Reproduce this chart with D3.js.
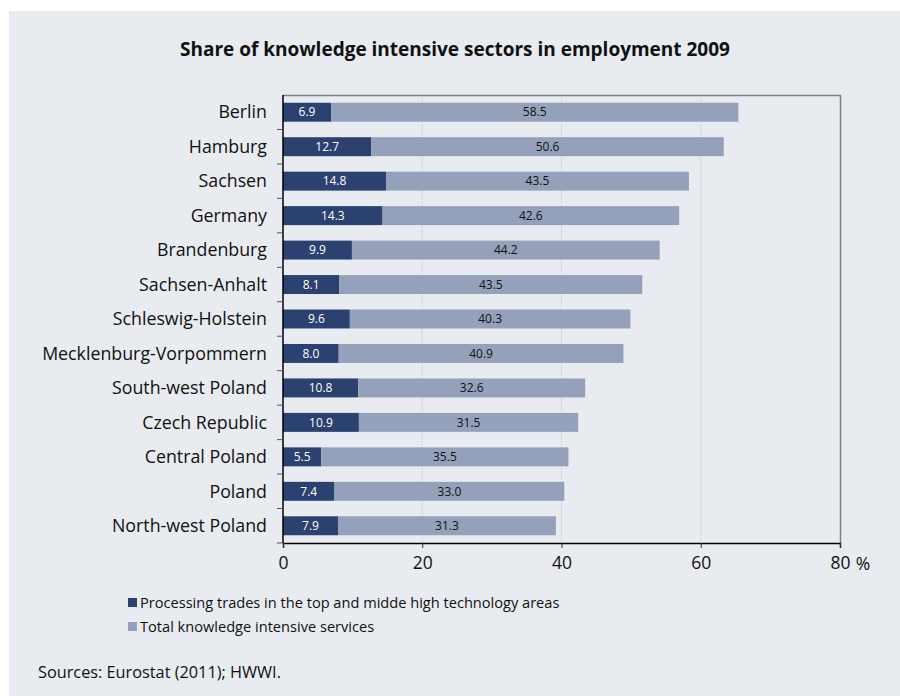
<!DOCTYPE html>
<html>
<head>
<meta charset="utf-8">
<script src="https://cdn.jsdelivr.net/npm/d3@7"></script>
<style>
  body { margin: 0; background: #fff; }
  svg { font-family: "Open Sans", "Noto Sans", sans-serif; }
</style>
</head>
<body>
<div id="chart"></div>
<script>
// chart data
var regions = ["Berlin", "Hamburg", "Sachsen", "Germany", "Brandenburg", "Sachsen-Anhalt",
  "Schleswig-Holstein", "Mecklenburg-Vorpommern", "South-west Poland", "Czech Republic",
  "Central Poland", "Poland", "North-west Poland"];
var processing = [6.9, 12.7, 14.8, 14.3, 9.9, 8.1, 9.6, 8.0, 10.8, 10.9, 5.5, 7.4, 7.9];
var services = [58.5, 50.6, 43.5, 42.6, 44.2, 43.5, 40.3, 40.9, 32.6, 31.5, 35.5, 33.0, 31.3];
var xTicks = [0, 20, 40, 60, 80];
var seriesNames = ["Processing trades in the top and midde high technology areas",
  "Total knowledge intensive services"];

var width = 900, height = 696;
var colDark = "#2b416f", colLight = "#95a1ba";

var svg = d3.select("#chart").append("svg")
    .attr("width", width)
    .attr("height", height);

svg.append("rect")
   .attr("x", 9).attr("y", 11)
   .attr("width", width - 9).attr("height", height - 11)
   .attr("fill", "#e8ebf0");

svg.append("text")
   .attr("x", 455).attr("y", 56)
   .attr("text-anchor", "middle")
   .attr("font-size", 19)
   .attr("font-weight", "bold")
   .attr("fill", "#111")
   .text("Share of knowledge intensive sectors in employment 2009");

var pLeft = 283, pRight = 840, pTop = 95, pBottom = 543;

var x = d3.scaleLinear().domain([0, 80]).range([pLeft, pRight]);
var y = d3.scaleBand().domain(regions).range([pTop, pBottom]).paddingInner(0.45).paddingOuter(0.225);
var band = d3.scaleBand().domain(regions).range([pTop, pBottom]);

// grid
svg.append("g").selectAll("line")
   .data(xTicks.slice(1, -1))
   .enter().append("line")
   .attr("x1", function(d) { return x(d); })
   .attr("x2", function(d) { return x(d); })
   .attr("y1", pTop).attr("y2", pBottom)
   .attr("stroke", "#c4c8cf")
   .attr("stroke-width", 1)
   .attr("stroke-dasharray", "1,1");

// frame top and right
svg.append("path")
   .attr("d", "M" + pLeft + "," + (pTop + 0.5) + "H" + (pRight + 0.5) + "V" + pBottom)
   .attr("fill", "none")
   .attr("stroke", "#7d8087")
   .attr("stroke-width", 1.5);

var rows = regions.map(function(r, i) {
  return {name: r, a: processing[i], b: services[i]};
});

var g = svg.append("g");

g.selectAll(".bar-a").data(rows).enter().append("rect")
   .attr("class", "bar-a")
   .attr("x", x(0))
   .attr("y", function(d) { return y(d.name); })
   .attr("width", function(d) { return x(d.a) - x(0); })
   .attr("height", y.bandwidth())
   .attr("fill", colDark);

g.selectAll(".bar-b").data(rows).enter().append("rect")
   .attr("class", "bar-b")
   .attr("x", function(d) { return x(d.a); })
   .attr("y", function(d) { return y(d.name); })
   .attr("width", function(d) { return x(d.a + d.b) - x(d.a); })
   .attr("height", y.bandwidth())
   .attr("fill", colLight);

g.selectAll(".lab-a").data(rows).enter().append("text")
   .attr("class", "lab-a")
   .attr("x", function(d) { return x(d.a / 2); })
   .attr("y", function(d) { return y(d.name) + y.bandwidth() / 2; })
   .attr("dy", "0.35em")
   .attr("text-anchor", "middle")
   .attr("font-size", 12)
   .attr("fill", "#fff")
   .text(function(d) { return d.a.toFixed(1); });

g.selectAll(".lab-b").data(rows).enter().append("text")
   .attr("class", "lab-b")
   .attr("x", function(d) { return x(d.a + d.b / 2); })
   .attr("y", function(d) { return y(d.name) + y.bandwidth() / 2; })
   .attr("dy", "0.35em")
   .attr("text-anchor", "middle")
   .attr("font-size", 12)
   .attr("fill", "#111")
   .text(function(d) { return d.b.toFixed(1); });

// left axis: ticks at band boundaries
var yAxis = svg.append("g");
yAxis.append("line")
   .attr("x1", pLeft).attr("x2", pLeft)
   .attr("y1", pTop).attr("y2", pBottom)
   .attr("stroke", "#000").attr("stroke-width", 1.5);
yAxis.selectAll(".tk").data(regions.slice(1)).enter().append("line")
   .attr("x1", pLeft - 6).attr("x2", pLeft)
   .attr("y1", function(d) { return band(d); })
   .attr("y2", function(d) { return band(d); })
   .attr("stroke", "#555");
yAxis.append("line")
   .attr("x1", pLeft - 6).attr("x2", pLeft)
   .attr("y1", pBottom).attr("y2", pBottom)
   .attr("stroke", "#555");
yAxis.selectAll("text").data(regions).enter().append("text")
   .attr("x", pLeft - 16)
   .attr("y", function(d) { return y(d) + y.bandwidth() / 2; })
   .attr("dy", "0.35em")
   .attr("text-anchor", "end")
   .attr("font-size", 17.8)
   .attr("fill", "#111")
   .text(function(d) { return d; });

// bottom axis
var xAxis = svg.append("g")
   .attr("transform", "translate(0," + pBottom + ")")
   .call(d3.axisBottom(x).tickValues(xTicks).tickSize(5).tickPadding(9));
xAxis.select(".domain").attr("stroke", "#000").attr("stroke-width", 1.5);
xAxis.selectAll(".tick line").attr("stroke", "#333");
xAxis.selectAll(".tick text")
   .attr("font-size", 17.5)
   .attr("font-family", "\"Open Sans\", sans-serif")
   .attr("fill", "#111");

svg.append("text")
   .attr("x", 863).attr("y", 569.5)
   .attr("text-anchor", "middle")
   .attr("font-size", 17.5)
   .attr("fill", "#111")
   .text("%");

// legend
var legend = svg.append("g").selectAll("g")
   .data(seriesNames)
   .enter().append("g")
   .attr("transform", function(d, i) { return "translate(128," + (603 + i * 24) + ")"; });
legend.append("rect")
   .attr("x", 0).attr("y", -5)
   .attr("width", 9).attr("height", 9)
   .attr("fill", function(d, i) { return i === 0 ? colDark : colLight; });
legend.append("text")
   .attr("x", 12).attr("y", 0)
   .attr("dy", "0.35em")
   .attr("font-size", 14.6)
   .attr("fill", "#111")
   .text(function(d) { return d; });

svg.append("text")
   .attr("x", 38).attr("y", 678)
   .attr("font-size", 16.3)
   .attr("fill", "#111")
   .text("Sources: Eurostat (2011); HWWI.");
</script>
</body>
</html>
